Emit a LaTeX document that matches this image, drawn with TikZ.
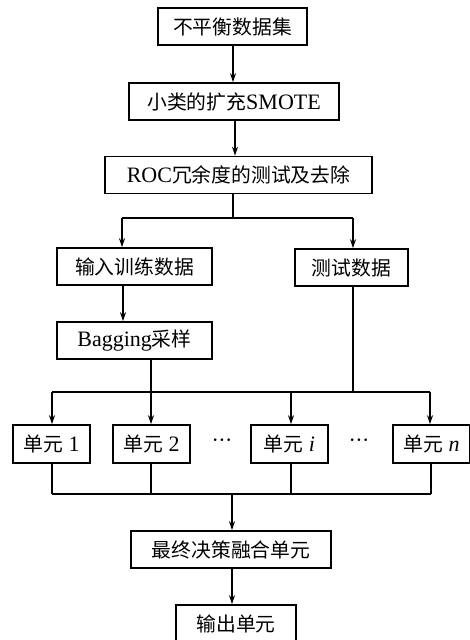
\documentclass[tikz,border=0pt]{standalone}
\usepackage{fontspec}
\setmainfont{Liberation Serif}
\newfontfamily\cjk[Scale=0.9]{Noto Sans CJK SC}
\usetikzlibrary{arrows.meta}
\begin{document}
\begin{tikzpicture}[x=1pt,y=-1pt,
  box/.style={draw,line width=1.6pt,minimum height=37pt,inner sep=0pt,font=\fontsize{22}{24}\selectfont,anchor=center},
  ubox/.style={box,minimum width=77pt,minimum height=38pt},
  dots/.style={font=\fontsize{22}{24}\selectfont,inner sep=0pt},
  conn/.style={line width=1.1pt},
  arr/.style={conn,-{Stealth[length=9pt,width=6pt]}}]
\useasboundingbox (0,0) rectangle (470,640);
\clip (0,0) rectangle (470,640);
\fill[white] (0,0) rectangle (470,640);
% nodes
\node[box,minimum width=149pt] (b1) at (232.5,26.5) {\cjk 不平衡数据集};
\node[box,minimum width=210pt] (b2) at (234,101.5) {{\cjk 小类的扩充}SMOTE};
\node[box,minimum width=267pt] (b3) at (238.5,175) {ROC{\cjk 冗余度的测试及去除}};
\node[box,minimum width=155pt] (tr) at (134.5,266.5) {\cjk 输入训练数据};
\node[box,minimum width=113pt] (te) at (351.5,267.5) {\cjk 测试数据};
\node[box,minimum width=155pt] (bg) at (134.5,340.5) {Bagging{\cjk 采样}};
\node[ubox] (u1) at (51.5,444) {{\cjk 单元} 1};
\node[ubox] (u2) at (151.5,444) {{\cjk 单元} 2};
\node[ubox] (ui) at (289.5,444) {{\cjk 单元} \textit{i}};
\node[ubox] (un) at (431.5,444) {{\cjk 单元} \textit{n}};
\node[dots] (d1) at (222,443) {\char"00B7\kern-0.5pt\char"00B7\kern-0.5pt\char"00B7};
\node[dots] (d2) at (359,443) {\char"00B7\kern-0.5pt\char"00B7\kern-0.5pt\char"00B7};
\node[box,minimum width=200pt] (fu) at (231,549.5) {\cjk 最终决策融合单元};
\node[box,minimum width=120pt] (ou) at (236,623.5) {\cjk 输出单元};
% coordinates
\coordinate (x1) at (233,0);
\coordinate (x2) at (235,0);
\coordinate (x3) at (123,0);
\coordinate (sL) at (122,218);
\coordinate (sR) at (353,218);
\coordinate (xb) at (151,392);
\coordinate (bL) at (52,392);
\coordinate (bR) at (430,392);
\coordinate (xi) at (291,0);
\coordinate (lL) at (52,494);
\coordinate (lR) at (431,494);
\coordinate (lM) at (232,494);
% connectors
\draw[arr] (b1.south -| x1) -- (b2.north -| x1);
\draw[arr] (b2.south -| x2) -- (b3.north -| x2);
\draw[conn] (b3.south -| x1) -- (x1 |- sL);
\draw[conn] (sL) -- (sR);
\draw[arr] (sL) -- (tr.north -| sL);
\draw[arr] (sR) -- (te.north -| sR);
\draw[arr] (tr.south -| x3) -- (bg.north -| x3);
\draw[conn] (bg.south -| xb) -- (xb);
\draw[conn] (te.south -| sR) -- (sR |- bL);
\draw[conn] (bL) -- (bR);
\draw[arr] (bL) -- (u1.north -| bL);
\draw[arr] (xb) -- (u2.north -| xb);
\draw[arr] (xi |- bL) -- (ui.north -| xi);
\draw[arr] (bR) -- (un.north -| bR);
\draw[conn] (u1.south -| lL) -- (lL);
\draw[conn] (u2.south -| xb) -- (xb |- lL);
\draw[conn] (ui.south -| xi) -- (xi |- lL);
\draw[conn] (un.south -| lR) -- (lR);
\draw[conn] (lL) -- (lR);
\draw[arr] (lM) -- (fu.north -| lM);
\draw[arr] (fu.south -| lM) -- (ou.north -| lM);
\end{tikzpicture}
\end{document}
